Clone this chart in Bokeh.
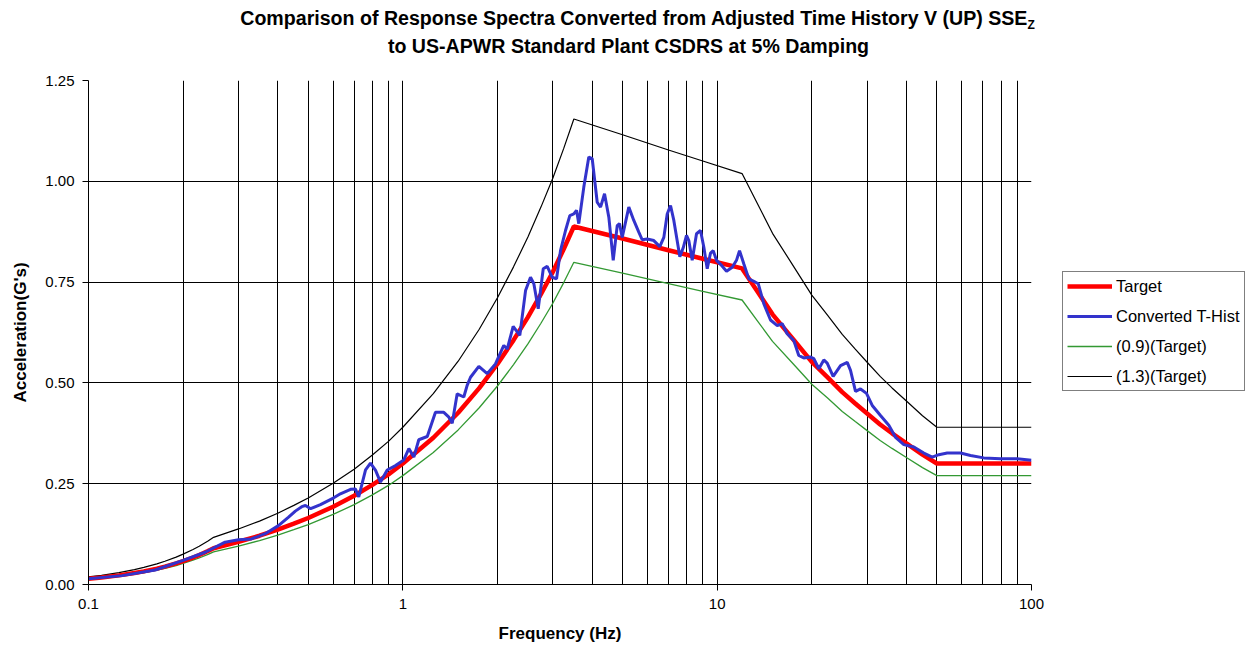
from bokeh.plotting import figure
from bokeh.models import FixedTicker, NumeralTickFormatter, Legend, LegendItem, Div
from bokeh.layouts import column, row
from bokeh.embed import file_html
from bokeh.resources import INLINE

# ---------------- data ----------------
freq_target = [0.1, 0.11, 0.125, 0.14, 0.15, 0.165, 0.175, 0.19, 0.2, 0.215, 0.225, 0.24, 0.25,
               0.3, 0.35, 0.4, 0.45, 0.5, 0.6, 0.7, 0.8, 0.9,
               1.0, 1.25, 1.5, 1.75, 2.0, 2.25, 2.5, 2.75, 3.0, 3.25, 3.5,
               5.0, 7.0, 9.0, 12.0,
               13.5, 15.0, 17.5, 20.0, 22.5, 25.0, 27.5, 30.0, 33.0, 36.0, 40.0, 45.0, 50.0, 100.0]
target = [0.0145, 0.0175, 0.0226, 0.0284, 0.0326, 0.0394, 0.0444, 0.0523, 0.058, 0.0669, 0.073, 0.0829, 0.090,
          0.106, 0.121, 0.136, 0.151, 0.165, 0.193, 0.220, 0.247, 0.273,
          0.300, 0.364, 0.426, 0.487, 0.547, 0.606, 0.663, 0.720, 0.775, 0.832, 0.888,
          0.858, 0.829, 0.808, 0.784,
          0.724, 0.670, 0.607, 0.552, 0.513, 0.477, 0.449, 0.424, 0.397, 0.375, 0.350, 0.322, 0.300, 0.300]
target_09 = [0.0131, 0.0158, 0.0203, 0.0256, 0.0293, 0.0355, 0.0400, 0.0471, 0.0522, 0.0602, 0.0657, 0.0746, 0.081,
             0.0954, 0.1089, 0.1224, 0.1359, 0.1485, 0.1737, 0.198, 0.2223, 0.2457,
             0.270, 0.3276, 0.3834, 0.4383, 0.4923, 0.5454, 0.5967, 0.648, 0.6975, 0.7488, 0.7992,
             0.7722, 0.7461, 0.7272, 0.7056,
             0.6516, 0.603, 0.5463, 0.4968, 0.4617, 0.4293, 0.4041, 0.3816, 0.3573, 0.3375, 0.315, 0.2898, 0.270, 0.270]
target_13 = [0.0189, 0.0228, 0.0294, 0.0369, 0.0424, 0.0512, 0.0577, 0.0680, 0.0754, 0.0870, 0.0949, 0.1078, 0.117,
             0.1378, 0.1573, 0.1768, 0.1963, 0.2145, 0.2509, 0.286, 0.3211, 0.3549,
             0.390, 0.4732, 0.5538, 0.6331, 0.7111, 0.7878, 0.8619, 0.936, 1.0075, 1.0816, 1.1544,
             1.1154, 1.0777, 1.0504, 1.0192,
             0.9412, 0.871, 0.7891, 0.7176, 0.6669, 0.6201, 0.5837, 0.5512, 0.5161, 0.4875, 0.455, 0.4186, 0.390, 0.390]

freq_conv = [0.100, 0.128, 0.163, 0.200, 0.235, 0.272, 0.300, 0.330, 0.365, 0.402, 0.433, 0.455,
             0.477, 0.490, 0.509, 0.547, 0.603, 0.633, 0.682, 0.707, 0.724, 0.761, 0.789, 0.819,
             0.849, 0.892, 0.948, 1.007, 1.045, 1.084, 1.124, 1.196, 1.270, 1.350, 1.401, 1.436,
             1.489, 1.563, 1.602, 1.642, 1.745, 1.855, 1.971, 2.095, 2.148, 2.244, 2.356, 2.457,
             2.548, 2.611, 2.696, 2.797, 2.880, 2.987, 3.083, 3.174, 3.293, 3.398, 3.499, 3.569,
             3.629, 3.764, 3.905, 4.004, 4.153, 4.256, 4.382, 4.522, 4.670, 4.809, 4.890, 4.988,
             5.235, 5.430, 5.632, 5.774, 5.990, 6.286, 6.569, 6.766, 6.936, 7.106, 7.280, 7.607,
             7.798, 7.989, 8.124, 8.329, 8.596, 8.851, 9.068, 9.297, 9.524, 9.714, 9.952, 10.25,
             10.71, 11.17, 11.52, 11.78, 12.16, 12.61, 13.08, 13.51, 14.08, 14.78, 15.53, 16.10,
             16.70, 17.53, 18.18, 18.86, 19.82, 20.30, 21.06, 21.84, 22.39, 23.39, 24.69, 25.93,
             26.56, 27.55, 28.58, 29.86, 31.14, 33.08, 35.16, 36.93, 39.25, 42.24, 45.44, 48.32,
             50.72, 53.93, 59.46, 63.97, 70.52, 79.69, 90.04, 100.0]
converted = [0.014, 0.022, 0.036, 0.060, 0.080, 0.105, 0.111, 0.113, 0.126, 0.146, 0.167, 0.182,
             0.193, 0.196, 0.188, 0.198, 0.215, 0.225, 0.236, 0.237, 0.217, 0.284, 0.301, 0.283,
             0.254, 0.284, 0.295, 0.309, 0.337, 0.316, 0.359, 0.367, 0.427, 0.427, 0.415, 0.400,
             0.473, 0.465, 0.494, 0.514, 0.541, 0.523, 0.547, 0.593, 0.584, 0.640, 0.618, 0.729,
             0.762, 0.746, 0.684, 0.783, 0.789, 0.762, 0.758, 0.828, 0.878, 0.915, 0.919, 0.928,
             0.895, 0.985, 1.060, 1.056, 0.948, 0.936, 0.969, 0.911, 0.804, 0.890, 0.895, 0.861,
             0.936, 0.903, 0.874, 0.855, 0.857, 0.853, 0.838, 0.861, 0.919, 0.940, 0.903, 0.813,
             0.835, 0.866, 0.853, 0.804, 0.870, 0.878, 0.837, 0.783, 0.822, 0.828, 0.804, 0.794,
             0.777, 0.787, 0.804, 0.828, 0.795, 0.758, 0.752, 0.746, 0.696, 0.656, 0.642, 0.647,
             0.622, 0.605, 0.568, 0.562, 0.564, 0.560, 0.535, 0.557, 0.549, 0.516, 0.543, 0.551,
             0.531, 0.479, 0.485, 0.474, 0.444, 0.419, 0.395, 0.365, 0.347, 0.341, 0.326, 0.316,
             0.322, 0.326, 0.326, 0.320, 0.314, 0.312, 0.312, 0.308]

x_ticks = [0.1, 1, 10, 100]
x_tick_labels = ["0.1", "1", "10", "100"]
x_minor = [0.2, 0.3, 0.4, 0.5, 0.6, 0.7, 0.8, 0.9, 2, 3, 4, 5, 6, 7, 8, 9,
           20, 30, 40, 50, 60, 70, 80, 90]
y_ticks = [0.0, 0.25, 0.5, 0.75, 1.0, 1.25]

series_names = ["Target", "Converted T-Hist", "(0.9)(Target)", "(1.3)(Target)"]
series_colors = ["#FF0000", "#3333CC", "#339933", "black"]
series_widths = [4.5, 3, 1.3, 1.2]
title_line1 = "Comparison of Response Spectra Converted from Adjusted Time History V (UP) SSE"
title_sub = "Z"
title_line2 = "to US-APWR Standard Plant CSDRS at 5% Damping"

FONT = "Liberation Sans, Arial, sans-serif"

title_div = Div(
    text=(f"<span style='position:relative;left:9px'>{title_line1}"
          f"<sub style='font-size:12px;line-height:0;vertical-align:-4px'>{title_sub}</sub></span>"
          f"<br>{title_line2}"),
    width=1257, height=70, margin=(0, 0, 0, 0),
    styles={"font-family": FONT, "font-weight": "bold", "font-size": "19.6px",
            "text-align": "center", "line-height": "28px", "padding-top": "4px",
            "color": "black", "box-sizing": "border-box"})

p = figure(width=1046, height=584, x_axis_type="log", x_range=(0.1, 100), y_range=(0, 1.25),
           output_backend="svg", toolbar_location=None,
           min_border_left=88, min_border_right=15, min_border_top=10, min_border_bottom=70)
p.background_fill_color = "white"
p.border_fill_color = "white"
p.outline_line_color = None

# axes
p.xaxis.ticker = FixedTicker(ticks=x_ticks, minor_ticks=x_minor)
p.xaxis.major_label_overrides = {t: l for t, l in zip(x_ticks, x_tick_labels)}
p.yaxis.ticker = FixedTicker(ticks=y_ticks)
p.yaxis.formatter = NumeralTickFormatter(format="0.00")
for ax in (p.xaxis, p.yaxis):
    ax.axis_line_color = "black"
    ax.major_tick_line_color = "black"
    ax.minor_tick_line_color = None
    ax.major_tick_in = 0
    ax.major_tick_out = 6
    ax.major_label_text_font = FONT
    ax.major_label_text_font_size = "15px"
    ax.major_label_text_color = "black"
    ax.axis_label_text_font = FONT
    ax.axis_label_text_font_size = "17px"
    ax.axis_label_text_font_style = "bold"
    ax.axis_label_text_color = "black"
    ax.major_label_standoff = 8
    ax.axis_label_standoff = 12
p.xaxis.axis_label = "Frequency (Hz)"
p.yaxis.axis_label = "Acceleration(G's)"

# grids
p.xgrid.ticker = FixedTicker(ticks=x_ticks, minor_ticks=x_minor)
p.xgrid.grid_line_color = "black"
p.xgrid.grid_line_width = 1
p.xgrid.minor_grid_line_color = "black"
p.xgrid.minor_grid_line_width = 1
p.ygrid.ticker = FixedTicker(ticks=y_ticks)
p.ygrid.grid_line_color = "black"
p.ygrid.grid_line_width = 1

# lines
p.line(freq_target, target_13, line_color=series_colors[3], line_width=series_widths[3])
p.line(freq_target, target_09, line_color=series_colors[2], line_width=series_widths[2])
p.line(freq_target, target, line_color=series_colors[0], line_width=series_widths[0])
p.line(freq_conv, converted, line_color=series_colors[1], line_width=series_widths[1])

# legend panel (separate, axis-less figure holding only the legend keys)
lf = figure(width=211, height=584, x_range=(0, 1), y_range=(0, 1),
            output_backend="svg", toolbar_location=None,
            x_axis_location=None, y_axis_location=None, min_border=0)
lf.outline_line_color = None
lf.grid.visible = False
lf.background_fill_color = "white"
lf.border_fill_color = "white"
items = []
for name, col, lw in zip(series_names, series_colors, series_widths):
    # key-only renderer: its points lie outside the visible range
    r = lf.line([-5, -4], [-5, -4], line_color=col, line_width=lw)
    items.append(LegendItem(label=name, renderers=[r]))

legend = Legend(items=items, location=(16, 193))
legend.border_line_color = "black"
legend.border_line_width = 1
legend.background_fill_color = "white"
legend.background_fill_alpha = 1
legend.label_text_font = FONT
legend.label_text_font_size = "16.5px"
legend.label_text_color = "black"
legend.glyph_width = 45
legend.glyph_height = 20
legend.label_height = 20
legend.spacing = 10
legend.padding = 4
legend.label_standoff = 4
legend.margin = 0
lf.add_layout(legend, "center")

layout = column(title_div, row(p, lf, spacing=0), spacing=0)
open("out.html", "w").write(file_html(layout, INLINE))
